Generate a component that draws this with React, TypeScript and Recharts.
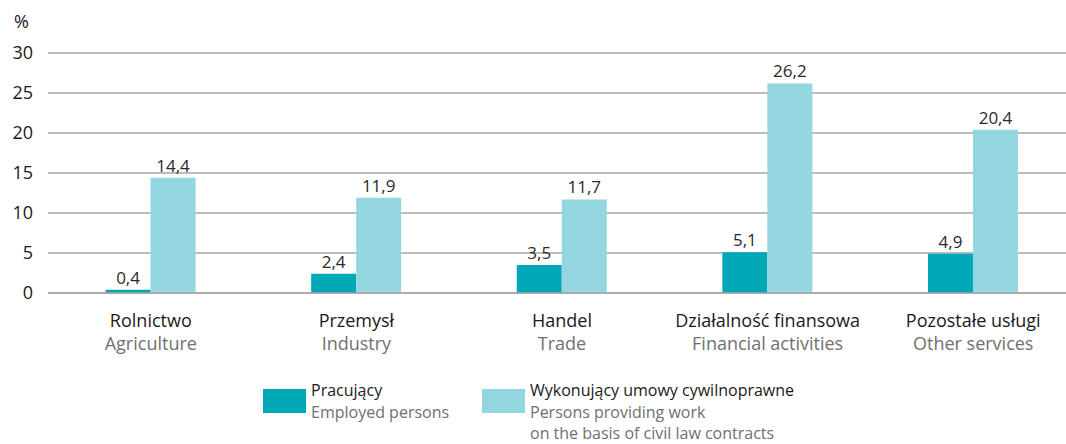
import { Bar, BarChart, CartesianGrid, LabelList, XAxis, YAxis } from "recharts";

const CATEGORIES_PL = ["Rolnictwo", "Przemysł", "Handel", "Działalność finansowa", "Pozostałe usługi"];
const CATEGORIES_EN = ["Agriculture", "Industry", "Trade", "Financial activities", "Other services"];
const EMPLOYED = [0.4, 2.4, 3.5, 5.1, 4.9];
const CIVIL_CONTRACTS = [14.4, 11.9, 11.7, 26.2, 20.4];
const Y_TICKS = [0, 5, 10, 15, 20, 25, 30];

const SERIES = [
  { key: "employed", color: "#00a8b7", pl: "Pracujący", en: ["Employed persons"] },
  {
    key: "civil",
    color: "#93d6df",
    pl: "Wykonujący umowy cywilnoprawne",
    en: ["Persons providing work", "on the basis of civil law contracts"],
  },
];

const data = CATEGORIES_PL.map((pl, i) => ({
  pl,
  en: CATEGORIES_EN[i],
  employed: EMPLOYED[i],
  civil: CIVIL_CONTRACTS[i],
}));

const FONT = "'Open Sans', sans-serif";
const fmt = (v: unknown) => Number(v).toFixed(1).replace(".", ",");

function CategoryTick(props: any) {
  const { x, y, index } = props;
  return (
    <g transform={`translate(${x},${y})`}>
      <text textAnchor="middle" fontFamily={FONT} fontSize={18}>
        <tspan x={0} dy={26} fill="#1a1a1a">{CATEGORIES_PL[index]}</tspan>
        <tspan x={0} dy={23} fill="#707070">{CATEGORIES_EN[index]}</tspan>
      </text>
    </g>
  );
}

export default function App() {
  return (
    <div style={{ position: "relative", width: 1066, height: 444, overflow: "hidden", fontFamily: FONT }}>
      <style>{"body{margin:0}"}</style>
      <div style={{ position: "absolute", left: 8, top: 8, width: 1068, height: 436 }}>
        <div style={{ position: "absolute", left: 6, top: 1, fontSize: 18, color: "#1a1a1a" }}>%</div>
        <BarChart
          width={1068}
          height={436}
          data={data}
          margin={{ top: 45, right: 0, left: 0, bottom: 91 }}
          barCategoryGap="28%"
          barGap={0}
        >
          <CartesianGrid vertical={false} stroke="#a6a6a6" strokeWidth={1.5} />
          <XAxis
            dataKey="pl"
            height={60}
            tickLine={false}
            axisLine={{ stroke: "#a6a6a6", strokeWidth: 1.5 }}
            tick={<CategoryTick />}
            interval={0}
          />
          <YAxis
            width={40}
            domain={[0, 30]}
            ticks={Y_TICKS}
            axisLine={false}
            tickLine={false}
            tickSize={0}
            tickMargin={15}
            tick={{ fill: "#1a1a1a", fontSize: 18, fontFamily: FONT }}
          />
          {SERIES.map((s) => (
            <Bar key={s.key} dataKey={s.key} fill={s.color} isAnimationActive={false}>
              <LabelList
                dataKey={s.key}
                position="top"
                offset={6}
                formatter={fmt}
                style={{ fill: "#2a2a2a", fontSize: 17, fontFamily: FONT }}
              />
            </Bar>
          ))}
        </BarChart>
        {SERIES.map((s, i) => (
          <div
            key={s.key}
            style={{
              position: "absolute",
              left: i === 0 ? 255 : 474,
              top: 372,
              display: "flex",
              alignItems: "flex-start",
            }}
          >
            <div style={{ width: 43, height: 24, background: s.color, marginTop: 9, marginRight: 5 }} />
            <div style={{ fontSize: 16, lineHeight: "21px", whiteSpace: "nowrap" }}>
              <div style={{ color: "#1a1a1a", marginBottom: 1 }}>{s.pl}</div>
              {s.en.map((t) => (
                <div key={t} style={{ color: "#707070" }}>{t}</div>
              ))}
            </div>
          </div>
        ))}
      </div>
    </div>
  );
}
